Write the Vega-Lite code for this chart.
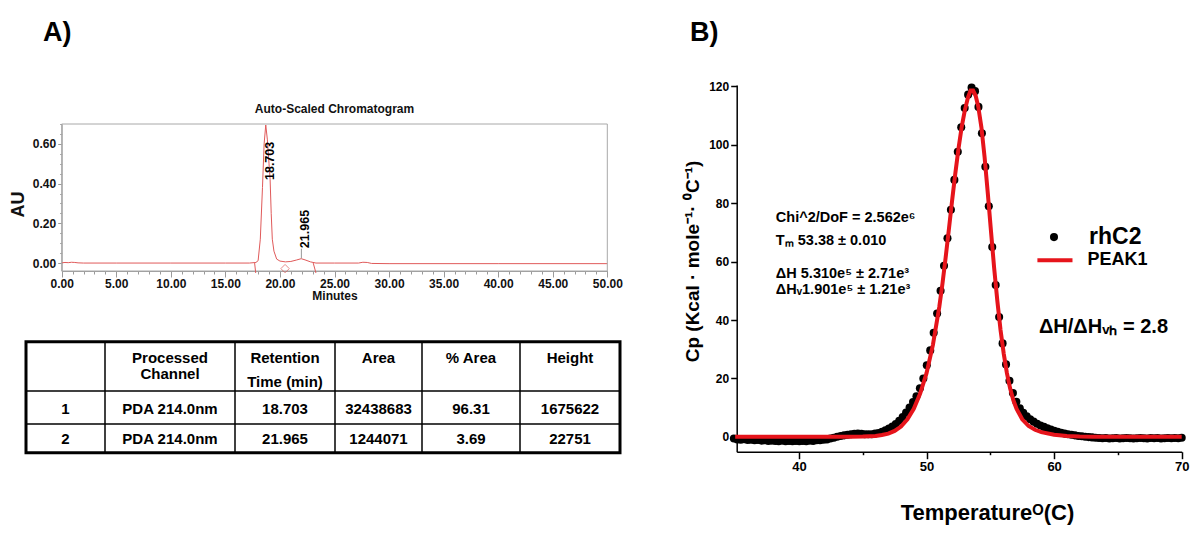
{
"$schema":"https://vega.github.io/schema/vega-lite/v6.json",
"width":1200,"height":545,"autosize":{"type":"none"},"padding":0,"background":"white",
"config":{"view":{"stroke":null},"font":"Liberation Sans","text":{"font":"Liberation Sans","fontWeight":"bold","color":"black"}},
"datasets":{
"chrom":[
{"min":0,"au":0.001},{"min":0.3,"au":0.003},{"min":0.6,"au":0.002},{"min":0.9,"au":0.004},{"min":1.2,"au":0.003},{"min":1.5,"au":0.001},{"min":2,"au":0.0},{"min":5,"au":0.0},{"min":10,"au":0.0},{"min":15,"au":0.0},{"min":17.2,"au":0.0},{"min":17.8,"au":0.003},{"min":18.0,"au":0.012},{"min":18.2,"au":0.12},{"min":18.4,"au":0.38},{"min":18.55,"au":0.6},{"min":18.7,"au":0.695},{"min":18.85,"au":0.62},{"min":19.0,"au":0.5},{"min":19.1,"au":0.42},{"min":19.2,"au":0.25},{"min":19.3,"au":0.12},{"min":19.45,"au":0.06},{"min":19.7,"au":0.02},{"min":20.0,"au":0.01},{"min":20.5,"au":0.006},{"min":21.0,"au":0.008},{"min":21.5,"au":0.015},{"min":21.95,"au":0.022},{"min":22.3,"au":0.016},{"min":22.8,"au":0.006},{"min":23.3,"au":0.0},{"min":25,"au":0.0},{"min":27.2,"au":0.0},{"min":27.6,"au":0.004},{"min":28.0,"au":0.003},{"min":28.4,"au":-0.002},{"min":30,"au":-0.003},{"min":40,"au":-0.003},{"min":50,"au":-0.003}
],
"chromMarks":[{"t":17.68,"a":0.0,"t2":17.78,"a2":-0.05},{"t":23.05,"a":0.0,"t2":23.3,"a2":-0.05}],
"dsc":[
{"temp":34.90,"cp":-0.6},{"temp":35.17,"cp":-0.9},{"temp":35.44,"cp":-1.0},{"temp":35.71,"cp":-0.8},{"temp":35.98,"cp":-1.1},{"temp":36.25,"cp":-1.0},{"temp":36.52,"cp":-1.2},{"temp":36.79,"cp":-1.1},{"temp":37.06,"cp":-1.3},{"temp":37.33,"cp":-1.2},{"temp":37.60,"cp":-1.4},{"temp":37.87,"cp":-1.3},{"temp":38.14,"cp":-1.4},{"temp":38.41,"cp":-1.5},{"temp":38.68,"cp":-1.3},{"temp":38.95,"cp":-1.5},{"temp":39.22,"cp":-1.4},{"temp":39.49,"cp":-1.5},{"temp":39.76,"cp":-1.4},{"temp":40.03,"cp":-1.5},{"temp":40.30,"cp":-1.4},{"temp":40.57,"cp":-1.5},{"temp":40.84,"cp":-1.3},{"temp":41.11,"cp":-1.4},{"temp":41.38,"cp":-1.2},{"temp":41.65,"cp":-1.2},{"temp":41.92,"cp":-1.0},{"temp":42.19,"cp":-0.9},{"temp":42.46,"cp":-0.6},{"temp":42.73,"cp":-0.3},{"temp":43.00,"cp":0.0},{"temp":43.27,"cp":0.3},{"temp":43.54,"cp":0.5},{"temp":43.81,"cp":0.7},{"temp":44.08,"cp":0.9},{"temp":44.35,"cp":1.0},{"temp":44.62,"cp":1.1},{"temp":44.89,"cp":1.0},{"temp":45.16,"cp":0.9},{"temp":45.43,"cp":0.9},{"temp":45.70,"cp":0.9},{"temp":45.97,"cp":1.1},{"temp":46.24,"cp":1.3},{"temp":46.51,"cp":1.7},{"temp":46.78,"cp":2.2},{"temp":47.05,"cp":2.8},{"temp":47.32,"cp":3.5},{"temp":47.59,"cp":4.4},{"temp":47.86,"cp":5.5},{"temp":48.13,"cp":6.8},{"temp":48.40,"cp":8.3},{"temp":48.67,"cp":10.0},{"temp":48.94,"cp":11.9},{"temp":49.21,"cp":13.9},{"temp":49.48,"cp":16.6},{"temp":49.75,"cp":20.0},{"temp":50.02,"cp":24.5},{"temp":50.29,"cp":29.6},{"temp":50.56,"cp":35.6},{"temp":50.83,"cp":42.2},{"temp":51.10,"cp":50.0},{"temp":51.37,"cp":58.6},{"temp":51.64,"cp":68.0},{"temp":51.91,"cp":77.8},{"temp":52.18,"cp":88.0},{"temp":52.45,"cp":97.6},{"temp":52.72,"cp":106.0},{"temp":52.99,"cp":112.6},{"temp":53.26,"cp":117.2},{"temp":53.53,"cp":119.6},{"temp":53.80,"cp":118.4},{"temp":54.07,"cp":113.0},{"temp":54.34,"cp":104.0},{"temp":54.61,"cp":92.5},{"temp":54.88,"cp":79.0},{"temp":55.15,"cp":65.0},{"temp":55.42,"cp":52.0},{"temp":55.69,"cp":41.0},{"temp":55.96,"cp":32.0},{"temp":56.23,"cp":24.8},{"temp":56.50,"cp":19.2},{"temp":56.77,"cp":15.0},{"temp":57.04,"cp":12.0},{"temp":57.31,"cp":9.8},{"temp":57.58,"cp":8.2},{"temp":57.85,"cp":7.0},{"temp":58.12,"cp":6.0},{"temp":58.39,"cp":5.2},{"temp":58.66,"cp":4.5},{"temp":58.93,"cp":3.9},{"temp":59.20,"cp":3.4},{"temp":59.47,"cp":2.9},{"temp":59.74,"cp":2.5},{"temp":60.01,"cp":2.1},{"temp":60.28,"cp":1.7},{"temp":60.55,"cp":1.4},{"temp":60.82,"cp":1.1},{"temp":61.09,"cp":0.9},{"temp":61.36,"cp":0.7},{"temp":61.63,"cp":0.5},{"temp":61.90,"cp":0.3},{"temp":62.17,"cp":0.2},{"temp":62.44,"cp":0.0},{"temp":62.71,"cp":-0.1},{"temp":62.98,"cp":-0.2},{"temp":63.25,"cp":-0.3},{"temp":63.52,"cp":-0.4},{"temp":63.79,"cp":-0.5},{"temp":64.06,"cp":-0.4},{"temp":64.33,"cp":-0.6},{"temp":64.60,"cp":-0.5},{"temp":64.87,"cp":-0.4},{"temp":65.14,"cp":-0.6},{"temp":65.41,"cp":-0.5},{"temp":65.68,"cp":-0.4},{"temp":65.95,"cp":-0.5},{"temp":66.22,"cp":-0.6},{"temp":66.49,"cp":-0.5},{"temp":66.76,"cp":-0.4},{"temp":67.03,"cp":-0.5},{"temp":67.30,"cp":-0.6},{"temp":67.57,"cp":-0.4},{"temp":67.84,"cp":-0.5},{"temp":68.11,"cp":-0.4},{"temp":68.38,"cp":-0.6},{"temp":68.65,"cp":-0.5},{"temp":68.92,"cp":-0.4},{"temp":69.19,"cp":-0.5},{"temp":69.46,"cp":-0.4},{"temp":69.73,"cp":-0.5},{"temp":70.00,"cp":-0.3}
],
"fit":[
{"temp":35.0,"cp":0},{"temp":38,"cp":0},{"temp":42,"cp":0},{"temp":44,"cp":0.05},{"temp":45,"cp":0.1},{"temp":46,"cp":0.3},{"temp":46.5,"cp":0.6},{"temp":47,"cp":1.1},{"temp":47.5,"cp":2.0},{"temp":48,"cp":3.5},{"temp":48.5,"cp":6.0},{"temp":49,"cp":9.6},{"temp":49.5,"cp":14.8},{"temp":50,"cp":21.8},{"temp":50.5,"cp":31.5},{"temp":51,"cp":44.5},{"temp":51.25,"cp":52.5},{"temp":51.5,"cp":61.5},{"temp":51.75,"cp":71.0},{"temp":52,"cp":80.8},{"temp":52.25,"cp":90.0},{"temp":52.5,"cp":98.6},{"temp":52.75,"cp":106.0},{"temp":53,"cp":111.8},{"temp":53.25,"cp":116.3},{"temp":53.45,"cp":118.6},{"temp":53.65,"cp":118.6},{"temp":53.85,"cp":116.8},{"temp":54.05,"cp":113.2},{"temp":54.3,"cp":106.0},{"temp":54.55,"cp":95.8},{"temp":54.8,"cp":83.5},{"temp":55.05,"cp":70.5},{"temp":55.3,"cp":57.8},{"temp":55.55,"cp":46.5},{"temp":55.8,"cp":36.6},{"temp":56.05,"cp":28.5},{"temp":56.3,"cp":21.8},{"temp":56.55,"cp":16.6},{"temp":56.8,"cp":12.6},{"temp":57.05,"cp":9.6},{"temp":57.5,"cp":6.0},{"temp":58,"cp":3.7},{"temp":58.5,"cp":2.4},{"temp":59,"cp":1.6},{"temp":60,"cp":0.7},{"temp":61,"cp":0.3},{"temp":62,"cp":0.1},{"temp":63,"cp":0},{"temp":66,"cp":0},{"temp":70,"cp":0}
],
"table":[
{"row":0,"line":1,"col":2,"txt":"Processed"},{"row":0,"line":1,"col":3,"txt":"Retention"},{"row":0,"line":1,"col":4,"txt":"Area"},{"row":0,"line":1,"col":5,"txt":"% Area"},{"row":0,"line":1,"col":6,"txt":"Height"},
{"row":0,"line":2,"col":2,"txt":"Channel"},{"row":0,"line":2,"col":3,"txt":"Time (min)"},
{"row":1,"line":0,"col":1,"txt":"1"},{"row":1,"line":0,"col":2,"txt":"PDA 214.0nm"},{"row":1,"line":0,"col":3,"txt":"18.703"},{"row":1,"line":0,"col":4,"txt":"32438683"},{"row":1,"line":0,"col":5,"txt":"96.31"},{"row":1,"line":0,"col":6,"txt":"1675622"},
{"row":2,"line":0,"col":1,"txt":"2"},{"row":2,"line":0,"col":2,"txt":"PDA 214.0nm"},{"row":2,"line":0,"col":3,"txt":"21.965"},{"row":2,"line":0,"col":4,"txt":"1244071"},{"row":2,"line":0,"col":5,"txt":"3.69"},{"row":2,"line":0,"col":6,"txt":"22751"}
],
"tableV":[{"edge":1.5},{"edge":2.5},{"edge":3.5},{"edge":4.5},{"edge":5.5}],
"tableH":[{"edge":0.5},{"edge":1.5}]
},
"resolve":{"scale":{"x":"independent","y":"independent"}},
"layer":[
 {"data":{"name":"chrom"},"mark":{"type":"line","color":"#e05a5a","strokeWidth":1},
  "encoding":{
   "x":{"field":"min","type":"quantitative","scale":{"domain":[0,50],"range":[61.7,607.3],"nice":false,"zero":false},
    "axis":{"orient":"bottom","offset":-274,"values":[0,1,2,3,4,5,6,7,8,9,10,11,12,13,14,15,16,17,18,19,20,21,22,23,24,25,26,27,28,29,30,31,32,33,34,35,36,37,38,39,40,41,42,43,44,45,46,47,48,49,50],
     "labelExpr":"datum.value % 5 === 0 ? format(datum.value, '.2f') : ''","tickSize":{"condition":{"test":"datum.value % 5 === 0","value":6},"value":3},
     "labelFlush":false,"labelOverlap":false,"grid":false,"domainColor":"#9a9a9a","tickColor":"#9a9a9a","labelFont":"Liberation Sans","labelFontWeight":"bold","labelFontSize":12,"labelColor":"#111111","labelPadding":1,
     "title":"Minutes","titleFont":"Liberation Sans","titleFontSize":12,"titleFontWeight":"bold","titleColor":"#111111","titlePadding":1}},
   "y":{"field":"au","type":"quantitative","scale":{"domain":[-0.04,0.70],"range":[271,124],"nice":false,"zero":false},
    "axis":{"orient":"left","offset":-61.7,"values":[0,0.05,0.1,0.15,0.2,0.25,0.3,0.35,0.4,0.45,0.5,0.55,0.6,0.65,0.7],
     "labelExpr":"abs(datum.value*5-round(datum.value*5)) < 0.001 ? format(datum.value, '.2f') : ''","tickSize":{"condition":{"test":"abs(datum.value*5-round(datum.value*5)) < 0.001","value":4},"value":2},
     "labelOverlap":false,"grid":false,"domainColor":"#9a9a9a","tickColor":"#9a9a9a","labelFont":"Liberation Sans","labelFontWeight":"bold","labelFontSize":12,"labelColor":"#111111","labelPadding":2,
     "title":"AU","titleFont":"Liberation Sans","titleFontSize":18,"titleFontWeight":"bold","titleColor":"#111111","titleAngle":-90,"titleX":-43,"titleY":204,"titleAlign":"center","titleBaseline":"middle"}}
  }},
 {"data":{"values":[{}]},"mark":{"type":"rect","fill":"transparent","stroke":"#a8a8a8","strokeWidth":1},
  "encoding":{"x":{"datum":0,"type":"quantitative","scale":{"domain":[0,50],"range":[61.7,607.3],"nice":false,"zero":false},"axis":null},"x2":{"datum":50},"y":{"datum":-0.04,"type":"quantitative","scale":{"domain":[-0.04,0.70],"range":[271,124],"nice":false,"zero":false},"axis":null},"y2":{"datum":0.70}}},
 {"data":{"name":"chromMarks"},"mark":{"type":"rule","color":"#e05a5a","strokeWidth":1},
  "encoding":{"x":{"field":"t","type":"quantitative","scale":{"domain":[0,50],"range":[61.7,607.3],"nice":false,"zero":false},"axis":null},"x2":{"field":"t2"},"y":{"field":"a","type":"quantitative","scale":{"domain":[-0.04,0.70],"range":[271,124],"nice":false,"zero":false},"axis":null},"y2":{"field":"a2"}}},
 {"data":{"values":[{}]},"mark":{"type":"point","shape":"diamond","filled":false,"color":"#e05a5a","size":70,"strokeWidth":1},
  "encoding":{"x":{"datum":20.47,"type":"quantitative","scale":{"domain":[0,50],"range":[61.7,607.3],"nice":false,"zero":false},"axis":null},"y":{"datum":-0.028,"type":"quantitative","scale":{"domain":[-0.04,0.70],"range":[271,124],"nice":false,"zero":false},"axis":null}}},
 {"data":{"values":[{}]},"mark":{"type":"rule","color":"#999999","strokeWidth":1},
  "encoding":{"x":{"datum":21.965,"type":"quantitative","scale":{"domain":[0,50],"range":[61.7,607.3],"nice":false,"zero":false},"axis":null},"y":{"datum":0.024,"type":"quantitative","scale":{"domain":[-0.04,0.70],"range":[271,124],"nice":false,"zero":false},"axis":null},"y2":{"datum":0.072}}},
 {"data":{"values":[{}]},"mark":{"type":"text","text":"18.703","angle":270,"align":"left","baseline":"middle","dy":4,"fontSize":12.5,"fontWeight":"bold"},
  "encoding":{"x":{"datum":18.703,"type":"quantitative","scale":{"domain":[0,50],"range":[61.7,607.3],"nice":false,"zero":false},"axis":null},"y":{"datum":0.418,"type":"quantitative","scale":{"domain":[-0.04,0.70],"range":[271,124],"nice":false,"zero":false},"axis":null}}},
 {"data":{"values":[{}]},"mark":{"type":"text","text":"21.965","angle":270,"align":"left","baseline":"middle","dy":4,"fontSize":12.5,"fontWeight":"bold"},
  "encoding":{"x":{"datum":21.965,"type":"quantitative","scale":{"domain":[0,50],"range":[61.7,607.3],"nice":false,"zero":false},"axis":null},"y":{"datum":0.075,"type":"quantitative","scale":{"domain":[-0.04,0.70],"range":[271,124],"nice":false,"zero":false},"axis":null}}},
 {"data":{"values":[{}]},"mark":{"type":"text","text":"Auto-Scaled Chromatogram","align":"center","baseline":"middle","fontSize":12,"fontWeight":"bold","color":"#111111"},
  "encoding":{"x":{"datum":25,"type":"quantitative","scale":{"domain":[0,50],"range":[61.7,607.3],"nice":false,"zero":false},"axis":null},"y":{"datum":0.775,"type":"quantitative","scale":{"domain":[-0.04,0.70],"range":[271,124],"nice":false,"zero":false},"axis":null}}},
 {"data":{"values":[{}]},"mark":{"type":"text","text":"A)","align":"left","baseline":"alphabetic","fontSize":27,"fontWeight":"bold"},
  "encoding":{"x":{"datum":-1.71,"type":"quantitative","scale":{"domain":[0,50],"range":[61.7,607.3],"nice":false,"zero":false},"axis":null},"y":{"datum":1.119,"type":"quantitative","scale":{"domain":[-0.04,0.70],"range":[271,124],"nice":false,"zero":false},"axis":null}}},

 {"data":{"values":[{}]},"mark":{"type":"rect","fill":"transparent","stroke":"black","strokeWidth":3},
  "encoding":{"x":{"datum":0.5,"type":"quantitative","scale":{"domain":[0.5,1,1.5,2,2.5,3,3.5,4,4.5,5,5.5,6,6.5],"range":[26,65.5,105,170,235,285,335,378.5,422,471,520,570,620],"nice":false,"zero":false},"axis":null},"x2":{"datum":6.5},
   "y":{"datum":-0.5,"type":"quantitative","scale":{"domain":[-0.5,0.5,1.5,2.5],"range":[341.7,391,424,452.7],"nice":false,"zero":false},"axis":null},"y2":{"datum":2.5}}},
 {"data":{"name":"tableV"},"mark":{"type":"rule","color":"black","strokeWidth":1.5},
  "encoding":{"x":{"field":"edge","type":"quantitative","scale":{"domain":[0.5,1,1.5,2,2.5,3,3.5,4,4.5,5,5.5,6,6.5],"range":[26,65.5,105,170,235,285,335,378.5,422,471,520,570,620],"nice":false,"zero":false},"axis":null},"y":{"datum":-0.5,"type":"quantitative","scale":{"domain":[-0.5,0.5,1.5,2.5],"range":[341.7,391,424,452.7],"nice":false,"zero":false},"axis":null},"y2":{"datum":2.5}}},
 {"data":{"name":"tableH"},"mark":{"type":"rule","color":"black","strokeWidth":1.5},
  "encoding":{"y":{"field":"edge","type":"quantitative","scale":{"domain":[-0.5,0.5,1.5,2.5],"range":[341.7,391,424,452.7],"nice":false,"zero":false},"axis":null},"x":{"datum":0.5,"type":"quantitative","scale":{"domain":[0.5,1,1.5,2,2.5,3,3.5,4,4.5,5,5.5,6,6.5],"range":[26,65.5,105,170,235,285,335,378.5,422,471,520,570,620],"nice":false,"zero":false},"axis":null},"x2":{"datum":6.5}}},
 {"data":{"name":"table"},"transform":[{"filter":"datum.row > 0"}],"mark":{"type":"text","align":"center","baseline":"middle","fontSize":15,"fontWeight":"bold","dy":1},
  "encoding":{"x":{"field":"col","type":"quantitative","scale":{"domain":[0.5,1,1.5,2,2.5,3,3.5,4,4.5,5,5.5,6,6.5],"range":[26,65.5,105,170,235,285,335,378.5,422,471,520,570,620],"nice":false,"zero":false},"axis":null},"y":{"field":"row","type":"quantitative","scale":{"domain":[-0.5,0.5,1.5,2.5],"range":[341.7,391,424,452.7],"nice":false,"zero":false},"axis":null},"text":{"field":"txt"}}},
 {"data":{"name":"table"},"transform":[{"filter":"datum.line === 1"}],"mark":{"type":"text","align":"center","baseline":"middle","fontSize":15,"fontWeight":"bold","dy":-8},
  "encoding":{"x":{"field":"col","type":"quantitative","scale":{"domain":[0.5,1,1.5,2,2.5,3,3.5,4,4.5,5,5.5,6,6.5],"range":[26,65.5,105,170,235,285,335,378.5,422,471,520,570,620],"nice":false,"zero":false},"axis":null},"y":{"field":"row","type":"quantitative","scale":{"domain":[-0.5,0.5,1.5,2.5],"range":[341.7,391,424,452.7],"nice":false,"zero":false},"axis":null},"text":{"field":"txt"}}},
 {"data":{"name":"table"},"transform":[{"filter":"datum.line === 2 && datum.col === 2"}],"mark":{"type":"text","align":"center","baseline":"middle","fontSize":15,"fontWeight":"bold","dy":8},
  "encoding":{"x":{"field":"col","type":"quantitative","scale":{"domain":[0.5,1,1.5,2,2.5,3,3.5,4,4.5,5,5.5,6,6.5],"range":[26,65.5,105,170,235,285,335,378.5,422,471,520,570,620],"nice":false,"zero":false},"axis":null},"y":{"field":"row","type":"quantitative","scale":{"domain":[-0.5,0.5,1.5,2.5],"range":[341.7,391,424,452.7],"nice":false,"zero":false},"axis":null},"text":{"field":"txt"}}},
 {"data":{"name":"table"},"transform":[{"filter":"datum.line === 2 && datum.col === 3"}],"mark":{"type":"text","align":"center","baseline":"middle","fontSize":15,"fontWeight":"bold","dy":16},
  "encoding":{"x":{"field":"col","type":"quantitative","scale":{"domain":[0.5,1,1.5,2,2.5,3,3.5,4,4.5,5,5.5,6,6.5],"range":[26,65.5,105,170,235,285,335,378.5,422,471,520,570,620],"nice":false,"zero":false},"axis":null},"y":{"field":"row","type":"quantitative","scale":{"domain":[-0.5,0.5,1.5,2.5],"range":[341.7,391,424,452.7],"nice":false,"zero":false},"axis":null},"text":{"field":"txt"}}},

 {"data":{"name":"dsc"},"mark":{"type":"circle","color":"black","size":65,"opacity":1},
  "encoding":{
   "x":{"field":"temp","type":"quantitative","scale":{"domain":[35.12,70],"range":[736.7,1181.7],"nice":false,"zero":false},
    "axis":{"orient":"bottom","offset":-93.3,"values":[40,45,50,55,60,65,70],"labelExpr":"datum.value % 10 === 0 ? '' + datum.value : ''",
     "tickSize":{"condition":{"test":"datum.value % 10 === 0","value":7},"value":3},"labelFlush":false,"labelOverlap":false,"grid":false,
     "domainColor":"black","domainWidth":1.5,"tickColor":"black","tickWidth":1.5,"labelFont":"Liberation Sans","labelFontWeight":"bold","labelFontSize":13,"labelColor":"black","labelPadding":2,
     "title":"Temperatureᴼ(C)","titleFont":"Liberation Sans","titleFontSize":22,"titleFontWeight":"bold","titleColor":"black","titleX":987,"titleY":61,"titleAlign":"center","titleBaseline":"middle"}},
   "y":{"field":"cp","type":"quantitative","scale":{"domain":[-5.1,120.5],"range":[451.7,85],"nice":false,"zero":false},
    "axis":{"orient":"left","offset":-736.7,"values":[0,20,40,60,80,100,120],"tickSize":6,"grid":false,"labelOverlap":false,
     "domainColor":"black","domainWidth":1.5,"tickColor":"black","tickWidth":1.5,"labelFont":"Liberation Sans","labelFontWeight":"bold","labelFontSize":12,"labelColor":"black","labelPadding":2,
     "title":"Cp (Kcal · mole⁻¹· ⁰C⁻¹)","titleFont":"Liberation Sans","titleFontSize":19,"titleFontWeight":"bold","titleColor":"black","titleAngle":-90,"titleX":-44,"titleY":261,"titleAlign":"center","titleBaseline":"middle"}}
  }},
 {"data":{"name":"fit"},"mark":{"type":"line","color":"#e6141b","strokeWidth":4},
  "encoding":{"x":{"field":"temp","type":"quantitative","scale":{"domain":[35.12,70],"range":[736.7,1181.7],"nice":false,"zero":false},"axis":null},"y":{"field":"cp","type":"quantitative","scale":{"domain":[-5.1,120.5],"range":[451.7,85],"nice":false,"zero":false},"axis":null}}},
 {"data":{"values":[{}]},"mark":{"type":"text","text":"Chi^2/DoF = 2.562e⁶","align":"left","baseline":"middle","fontSize":14.5,"fontWeight":"bold"},
  "encoding":{"x":{"datum":38.19,"type":"quantitative","scale":{"domain":[35.12,70],"range":[736.7,1181.7],"nice":false,"zero":false},"axis":null},"y":{"datum":75.1,"type":"quantitative","scale":{"domain":[-5.1,120.5],"range":[451.7,85],"nice":false,"zero":false},"axis":null}}},
 {"data":{"values":[{}]},"mark":{"type":"text","text":"Tₘ 53.38 ± 0.010","align":"left","baseline":"middle","fontSize":14.5,"fontWeight":"bold"},
  "encoding":{"x":{"datum":38.19,"type":"quantitative","scale":{"domain":[35.12,70],"range":[736.7,1181.7],"nice":false,"zero":false},"axis":null},"y":{"datum":67.1,"type":"quantitative","scale":{"domain":[-5.1,120.5],"range":[451.7,85],"nice":false,"zero":false},"axis":null}}},
 {"data":{"values":[{}]},"mark":{"type":"text","text":"ΔH  5.310e⁵ ± 2.71e³","align":"left","baseline":"middle","fontSize":14.5,"fontWeight":"bold"},
  "encoding":{"x":{"datum":38.19,"type":"quantitative","scale":{"domain":[35.12,70],"range":[736.7,1181.7],"nice":false,"zero":false},"axis":null},"y":{"datum":55.9,"type":"quantitative","scale":{"domain":[-5.1,120.5],"range":[451.7,85],"nice":false,"zero":false},"axis":null}}},
 {"data":{"values":[{}]},"mark":{"type":"text","text":"ΔHᵥ1.901e⁵ ± 1.21e³","align":"left","baseline":"middle","fontSize":14.5,"fontWeight":"bold"},
  "encoding":{"x":{"datum":38.19,"type":"quantitative","scale":{"domain":[35.12,70],"range":[736.7,1181.7],"nice":false,"zero":false},"axis":null},"y":{"datum":50.2,"type":"quantitative","scale":{"domain":[-5.1,120.5],"range":[451.7,85],"nice":false,"zero":false},"axis":null}}},
 {"data":{"values":[{}]},"mark":{"type":"circle","color":"black","size":65,"opacity":1},
  "encoding":{"x":{"datum":59.99,"type":"quantitative","scale":{"domain":[35.12,70],"range":[736.7,1181.7],"nice":false,"zero":false},"axis":null},"y":{"datum":68.4,"type":"quantitative","scale":{"domain":[-5.1,120.5],"range":[451.7,85],"nice":false,"zero":false},"axis":null}}},
 {"data":{"values":[{}]},"mark":{"type":"text","text":"rhC2","align":"left","baseline":"middle","fontSize":23,"fontWeight":"bold"},
  "encoding":{"x":{"datum":62.74,"type":"quantitative","scale":{"domain":[35.12,70],"range":[736.7,1181.7],"nice":false,"zero":false},"axis":null},"y":{"datum":68.4,"type":"quantitative","scale":{"domain":[-5.1,120.5],"range":[451.7,85],"nice":false,"zero":false},"axis":null}}},
 {"data":{"values":[{}]},"mark":{"type":"rule","color":"#e6141b","strokeWidth":4},
  "encoding":{"x":{"datum":58.69,"type":"quantitative","scale":{"domain":[35.12,70],"range":[736.7,1181.7],"nice":false,"zero":false},"axis":null},"x2":{"datum":61.44},"y":{"datum":60.5,"type":"quantitative","scale":{"domain":[-5.1,120.5],"range":[451.7,85],"nice":false,"zero":false},"axis":null}}},
 {"data":{"values":[{}]},"mark":{"type":"text","text":"PEAK1","align":"left","baseline":"middle","fontSize":18,"fontWeight":"bold"},
  "encoding":{"x":{"datum":62.62,"type":"quantitative","scale":{"domain":[35.12,70],"range":[736.7,1181.7],"nice":false,"zero":false},"axis":null},"y":{"datum":60.5,"type":"quantitative","scale":{"domain":[-5.1,120.5],"range":[451.7,85],"nice":false,"zero":false},"axis":null}}},
 {"data":{"values":[{}]},"mark":{"type":"text","text":"ΔH/ΔHᵥₕ = 2.8","align":"left","baseline":"middle","fontSize":20,"fontWeight":"bold"},
  "encoding":{"x":{"datum":58.81,"type":"quantitative","scale":{"domain":[35.12,70],"range":[736.7,1181.7],"nice":false,"zero":false},"axis":null},"y":{"datum":37.6,"type":"quantitative","scale":{"domain":[-5.1,120.5],"range":[451.7,85],"nice":false,"zero":false},"axis":null}}},
 {"data":{"values":[{}]},"mark":{"type":"text","text":"B)","align":"left","baseline":"alphabetic","fontSize":27,"fontWeight":"bold"},
  "encoding":{"x":{"datum":31.46,"type":"quantitative","scale":{"domain":[35.12,70],"range":[736.7,1181.7],"nice":false,"zero":false},"axis":null},"y":{"datum":135.5,"type":"quantitative","scale":{"domain":[-5.1,120.5],"range":[451.7,85],"nice":false,"zero":false},"axis":null}}}
]
}
